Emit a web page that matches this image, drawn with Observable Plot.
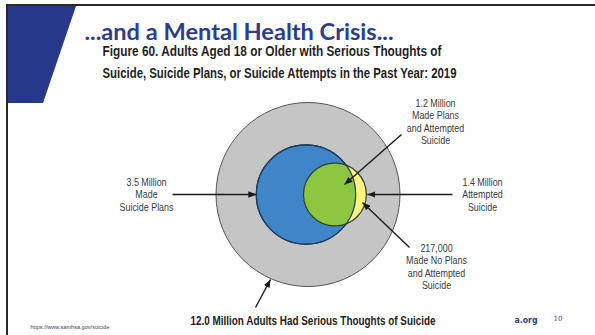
<!DOCTYPE html>
<html><head><meta charset="utf-8">
<script src="https://cdn.jsdelivr.net/npm/d3@7"></script>
<script src="https://cdn.jsdelivr.net/npm/@observablehq/plot@0.6"></script>
<style>
html,body{margin:0;padding:0;background:#fff;}
#slide{position:relative;width:595px;height:335px;overflow:hidden;background:#fff;}
#chart{position:absolute;left:0;top:0;}
#band{position:absolute;left:8px;top:6px;width:68px;height:97px;background:#26398a;clip-path:polygon(0 0,100% 0,51.5% 100%,0 100%);}
#topline{position:absolute;left:6px;top:4px;width:589px;height:2px;background:#2a2a2a;}
#leftline{position:absolute;left:6px;top:4px;width:2px;height:331px;background:#2a2a2a;}
</style></head>
<body>
<div id="slide"><div id="chart"></div><div id="band"></div><div id="topline"></div><div id="leftline"></div></div>
<script>
// ---- data (millions of adults, 2019) ----
const thoughtsValue = 12.0;        // serious thoughts of suicide
const plansValue = 3.5;            // made suicide plans
const attemptValue = 1.4;          // attempted suicide
const plansAttemptValue = 1.2;     // made plans and attempted
const noPlansAttemptValue = 0.217; // made no plans and attempted

const slideTitle = "...and a Mental Health Crisis...";
const figTitleLines = ["Figure 60. Adults Aged 18 or Older with Serious Thoughts of",
  "Suicide, Suicide Plans, or Suicide Attempts in the Past Year: 2019"];
const annoLabels = ["1.2 Million\nMade Plans\nand Attempted\nSuicide",
  "3.5 Million\nMade\nSuicide Plans",
  "1.4 Million\nAttempted\nSuicide",
  "217,000\nMade No Plans\nand Attempted\nSuicide"];
const bottomLabel = "12.0 Million Adults Had Serious Thoughts of Suicide";
const sourceUrl = "https://www.samhsa.gov/suicide";
const footerOrg = "a.org";
const pageNum = "10";

// ---- layout ----
const CX = 307.5, CY = 194, R_OUT = 92;
const k = R_OUT / Math.sqrt(thoughtsValue / Math.PI); // px per radius unit
function lens(r1, r2, d) {
  if (d >= r1 + r2) return 0;
  if (d <= Math.abs(r1 - r2)) return Math.PI * Math.min(r1, r2) ** 2;
  const a1 = Math.acos((d*d + r1*r1 - r2*r2) / (2*d*r1));
  const a2 = Math.acos((d*d + r2*r2 - r1*r1) / (2*d*r2));
  const s = Math.sqrt((-d+r1+r2)*(d+r1-r2)*(d-r1+r2)*(d+r1+r2));
  return r1*r1*a1 + r2*r2*a2 - 0.5*s;
}
// overlap of "plans" and "attempted" circles = attempted minus those who made no plans
const overlapTarget = attemptValue - noPlansAttemptValue;
const rP = Math.sqrt(plansValue / Math.PI), rA = Math.sqrt(attemptValue / Math.PI);
let lo = Math.abs(rP - rA), hi = rP + rA;
for (let i = 0; i < 60; i++) { const m = (lo + hi) / 2; if (lens(rP, rA, m) > overlapTarget) lo = m; else hi = m; }
const dPx = ((lo + hi) / 2) * k;
const blueX = CX - 2, attX = blueX + dPx;
const rBluePx = rP * k, rAttPx = rA * k;

const outer = [{value: thoughtsValue, x: CX, y: CY}];
const blue = [{value: plansValue, x: blueX, y: CY}];
const att = [{value: attemptValue, x: attX, y: CY}];

const arrows = [
  {x1: 401, y1: 134, x2: 344, y2: 184},
  {x1: 172, y1: CY, x2: blueX - rBluePx, y2: CY},
  {x1: 452, y1: CY, x2: attX + rAttPx + 1, y2: CY},
  {x1: 409, y1: 247, x2: 362, y2: 202},
  {x1: 255, y1: 307, x2: 270, y2: 279}
];
const annoPos = [[435, 121], [146, 194], [482, 194], [436, 266]];
const annos = annoLabels.map((t, i) => ({t, x: annoPos[i][0], y: annoPos[i][1]}));

const single = (text, x, baseline, size) => [{text, x, y: baseline - 0.32 * size}];

const plot = Plot.plot({
  width: 595, height: 335, margin: 0,
  style: {background: "transparent"},
  x: {domain: [0, 595], range: [0, 595], axis: null},
  y: {domain: [0, 335], range: [0, 335], axis: null},
  r: {type: "sqrt", domain: [0, thoughtsValue], range: [0, R_OUT]},
  marks: [
    Plot.dot(outer, {x: "x", y: "y", r: "value", fill: "#c5c5c5", stroke: "#555", strokeWidth: 1}),
    Plot.dot(blue, {x: "x", y: "y", r: "value", fill: "#3f86c8", stroke: "#1e3b5a", strokeWidth: 1.2, ariaDescription: "plans"}),
    Plot.dot(att, {x: "x", y: "y", r: "value", fill: "#fff27e", stroke: "none"}),
    Plot.dot(att, {x: "x", y: "y", r: "value", fill: "#8dc641", stroke: "none", ariaDescription: "plansattempt"}),
    Plot.dot(att, {x: "x", y: "y", r: "value", fill: "none", stroke: "#2c4526", strokeWidth: 1.2}),
    Plot.dot(blue, {x: "x", y: "y", r: "value", fill: "none", stroke: "#1e3b5a", strokeWidth: 1.2}),
    Plot.link(arrows, {x1: "x1", y1: "y1", x2: "x2", y2: "y2", stroke: "#1a1a1a", strokeWidth: 1.4, ariaDescription: "arrows"}),
    Plot.text(annos, {x: "x", y: "y", text: "t", fontSize: 11, lineHeight: 1.12, lineAnchor: "middle", textAnchor: "middle",
      fill: "#3a3a3a", fontFamily: "Liberation Sans, Arial, sans-serif", ariaDescription: "annos"}),
    Plot.text(single(slideTitle, 84, 39, 23), {x: "x", y: "y", text: "text", fontSize: 23, fontWeight: 700, textAnchor: "start",
      fill: "#2b3e8c", fontFamily: "Lato, Calibri, sans-serif", ariaDescription: "fit-309"}),
    Plot.text(single(figTitleLines[0], 102, 55.5, 14), {x: "x", y: "y", text: "text", fontSize: 14, fontWeight: 700, textAnchor: "start",
      fill: "#1f1f1f", fontFamily: "Liberation Sans, Arial, sans-serif", ariaDescription: "fit-339"}),
    Plot.text(single(figTitleLines[1], 102, 77, 14), {x: "x", y: "y", text: "text", fontSize: 14, fontWeight: 700, textAnchor: "start",
      fill: "#1f1f1f", fontFamily: "Liberation Sans, Arial, sans-serif", ariaDescription: "fit-354"}),
    Plot.text(single(bottomLabel, 190, 324, 13), {x: "x", y: "y", text: "text", fontSize: 13, fontWeight: 700, textAnchor: "start",
      fill: "#222", fontFamily: "Liberation Sans, Arial, sans-serif", ariaDescription: "fit-245"}),
    Plot.text(single(sourceUrl, 30, 328.5, 5.5), {x: "x", y: "y", text: "text", fontSize: 5.5, textAnchor: "start",
      fill: "#444", fontFamily: "Liberation Sans, Arial, sans-serif", ariaDescription: "fit-79"}),
    Plot.text(single(footerOrg, 514, 322, 8), {x: "x", y: "y", text: "text", fontSize: 8, fontWeight: 700, textAnchor: "start",
      fill: "#2b3e8c", fontFamily: "DejaVu Sans, Verdana, sans-serif", ariaDescription: "fit-23"}),
    Plot.text(single(pageNum, 553, 320.5, 7), {x: "x", y: "y", text: "text", fontSize: 7, textAnchor: "start",
      fill: "#2b3e8c", fontFamily: "DejaVu Serif, serif", ariaDescription: "fit-9"})
  ]
});
document.getElementById("chart").appendChild(plot);

// ---- post-processing: clip, arrowheads, text fitting ----
const svgNode = plot.tagName.toLowerCase() === "svg" ? plot : plot.querySelector("svg");
const svg = d3.select(svgNode);
const grp = (name) => svg.selectAll("g").filter(function() { return this.getAttribute("aria-description") === name; });
const defs = svg.insert("defs", ":first-child");
const blueCircle = grp("plans").select("circle").node();
const cp = defs.append("clipPath").attr("id", "clipBlue");
if (blueCircle) cp.node().appendChild(blueCircle.cloneNode(true));
grp("plansattempt").attr("clip-path", "url(#clipBlue)");
defs.append("marker").attr("id", "ahead").attr("viewBox", "0 0 10 10").attr("refX", 10).attr("refY", 5)
  .attr("markerUnits", "userSpaceOnUse").attr("markerWidth", 8).attr("markerHeight", 6.5)
  .attr("orient", "auto").attr("preserveAspectRatio", "none")
  .append("path").attr("d", "M0,0L10,5L0,10z").attr("fill", "#1a1a1a");
grp("arrows").selectAll("path, line").attr("marker-end", "url(#ahead)");
svg.selectAll("g").each(function() {
  const desc = this.getAttribute("aria-description") || "";
  if (!desc.startsWith("fit-")) return;
  const w = +desc.slice(4);
  d3.select(this).selectAll("text").attr("textLength", w).attr("lengthAdjust", "spacingAndGlyphs");
});
grp("annos").selectAll("text").each(function() {
  const t = this.getAttribute("transform");
  if (t) this.setAttribute("transform", t + " scale(0.81,1)");
  else {
    const x = +this.getAttribute("x") || 0, y = +this.getAttribute("y") || 0;
    this.removeAttribute("x"); this.removeAttribute("y");
    this.setAttribute("transform", `translate(${x},${y}) scale(0.81,1)`);
  }
});
</script>
</body></html>
